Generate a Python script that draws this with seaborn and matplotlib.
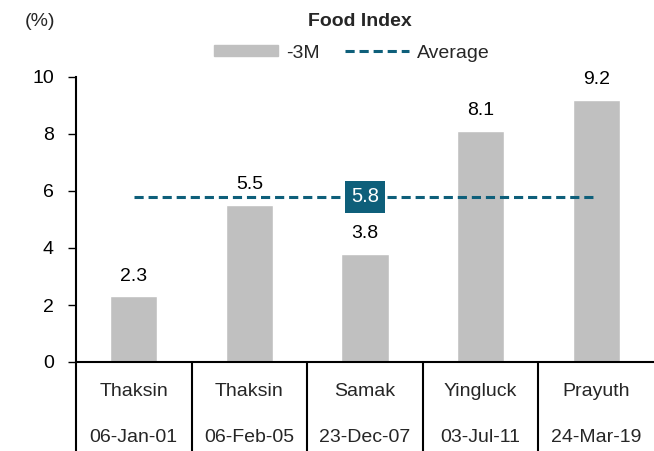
import pandas as pd
import matplotlib
matplotlib.use("Agg")
import matplotlib.pyplot as plt
import matplotlib.transforms as mtransforms
from matplotlib.patches import Patch
from matplotlib.lines import Line2D
import seaborn as sns

# chart data
leaders = ["Thaksin", "Thaksin", "Samak", "Yingluck", "Prayuth"]
dates = ["06-Jan-01", "06-Feb-05", "23-Dec-07", "03-Jul-11", "24-Mar-19"]
food_3m = [2.3, 5.5, 3.8, 8.1, 9.2]
average = 5.8
y_ticks = [0, 2, 4, 6, 8, 10]

BAR_GREY = "#C0C0C0"
TEAL = "#0E5F7A"


def main():
    df = pd.DataFrame({"pos": range(len(food_3m)), "value": food_3m})

    sns.set_theme(style="white")
    plt.rcParams["font.family"] = ["Liberation Sans", "DejaVu Sans"]

    fig = plt.figure(figsize=(6.54, 4.51), dpi=100)
    ax = fig.add_axes([76 / 654, 1 - 362 / 451, (654 - 76) / 654, (362 - 77) / 451])

    sns.barplot(data=df, x="pos", y="value", color=BAR_GREY, width=0.41,
                saturation=1, ax=ax)

    # average line across the bar centres
    ax.plot([0, len(food_3m) - 1], [average, average], color=TEAL, lw=2.2,
            dashes=(3, 1.6), zorder=3)
    ax.text(2, average, f"{average:.1f}", ha="center", va="center", fontsize=14.5,
            color="white", zorder=4,
            bbox=dict(boxstyle="square,pad=0.32", fc=TEAL, ec="none"))

    # bar value labels
    for i, v in enumerate(food_3m):
        ax.annotate(f"{v:.1f}", (i, v), xytext=(0, 8.5), textcoords="offset points",
                    ha="center", va="bottom", fontsize=14, color="black")

    ax.set_xlim(-0.5, len(food_3m) - 0.5)
    ax.set_ylim(0, 10)
    ax.set_yticks(y_ticks)
    ax.set_xticks([])
    ax.set_xlabel("")
    ax.set_ylabel("")
    ax.tick_params(axis="y", left=True, length=6, width=1, pad=10,
                   labelsize=14, colors="black")
    for side in ["top", "right"]:
        ax.spines[side].set_visible(False)
    for side in ["left", "bottom"]:
        ax.spines[side].set_color("black")
        ax.spines[side].set_linewidth(1.5)

    # two-level category labels with separators
    trans = mtransforms.blended_transform_factory(ax.transData, fig.transFigure)
    for i, (name, d) in enumerate(zip(leaders, dates)):
        fig.text(i, 1 - 392 / 451, name, transform=trans, ha="center", va="center",
                 fontsize=14)
        fig.text(i, 1 - 437 / 451, d, transform=trans, ha="center", va="center",
                 fontsize=14)
    for x in [-0.5, 0.5, 1.5, 2.5, 3.5]:
        fig.add_artist(Line2D([x, x], [1 - 362 / 451, 0], transform=trans,
                              color="black", lw=1.5))

    fig.text(360 / 654, 1 - 22 / 451, "Food Index", ha="center", va="center",
             fontsize=14, fontweight="bold")
    fig.text(40 / 654, 1 - 22 / 451, "(%)", ha="center", va="center", fontsize=14)

    handles = [Patch(color=BAR_GREY),
               Line2D([0], [0], color=TEAL, lw=2.2, dashes=(3, 1.6))]
    fig.legend(handles, ["-3M", "Average"], loc="center", ncol=2,
               bbox_to_anchor=(352 / 654, 1 - 53 / 451), frameon=False,
               fontsize=14, handlelength=3.3, handleheight=0.55,
               columnspacing=1.3, handletextpad=0.4)

    fig.savefig("out.png", dpi=100)
    plt.close(fig)


if __name__ == "__main__":
    main()
